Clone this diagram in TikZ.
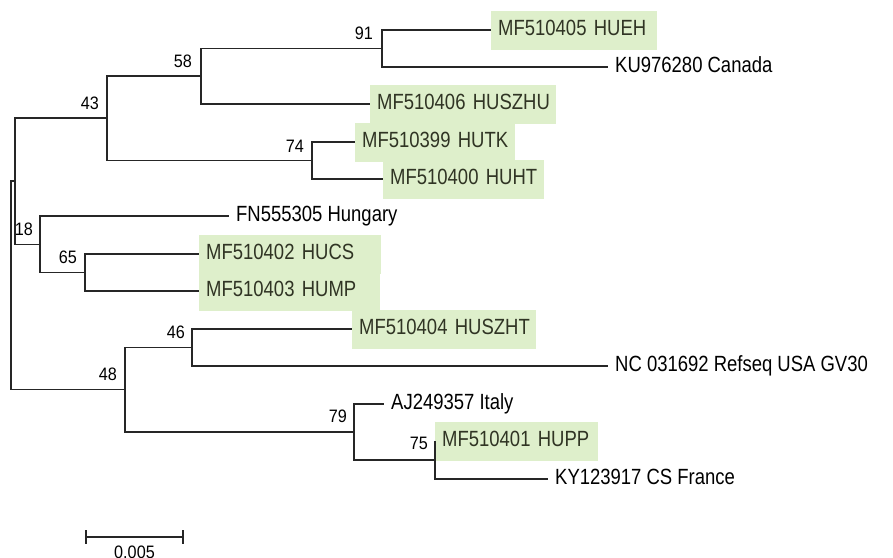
\documentclass[tikz,border=0pt]{standalone}
\usepackage{fontspec}
\setmainfont{Liberation Sans}[FakeStretch=0.84]
\newfontfamily\bsfont{Liberation Sans}[FakeStretch=0.9]
\usetikzlibrary{positioning}
\definecolor{hlgreen}{RGB}{222,239,203}
\definecolor{hltext}{RGB}{48,52,36}
\tikzset{
  br/.style={draw=black!85,line width=1.2pt},
  leaf/.style={anchor=west,inner xsep=7pt,inner ysep=0pt,minimum height=39pt,
               text height=16pt,text depth=6pt,font=\fontsize{22}{24}\selectfont},
  hl/.style={leaf,fill=hlgreen,text=hltext,text width=#1,align=left},
  bs/.style={inner sep=0pt,text height=13pt,text depth=0pt,
             font=\bsfont\fontsize{18}{20}\selectfont},
}

\begin{document}
\begin{tikzpicture}[x=1pt,y=-1pt]
  \useasboundingbox (0,0) rectangle (893,557);
  \clip (0,0) rectangle (893,557);
  % --- inner nodes of the tree ---
  \coordinate (root) at (11,285.5);
  \coordinate (ntop) at (15,181);
  \coordinate (n43)  at (107,118);
  \coordinate (n58)  at (201,76);
  \coordinate (n91)  at (382,48.5);
  \coordinate (n74)  at (312,160.5);
  \coordinate (n18)  at (40,244.5);
  \coordinate (n65)  at (85,272.5);
  \coordinate (n48)  at (125,389.5);
  \coordinate (n46)  at (192,347.5);
  \coordinate (n79)  at (354,432);
  \coordinate (n75)  at (435,460);
  % --- leaves ---
  \node[hl=152pt] (hueh)    at (491,30)  {\mbox{MF510405 HUEH}};
  \node[leaf]     (canada)  at (608,67)  {KU976280 Canada};
  \node[hl=172pt] (huszhu)  at (370,104) {\mbox{MF510406 HUSZHU}};
  \node[hl=146pt] (hutk)    at (355,142) {\mbox{MF510399 HUTK}};
  \node[hl=147pt] (huht)    at (383,179) {\mbox{MF510400 HUHT}};
  \node[leaf]     (hungary) at (229,216) {FN555305 Hungary};
  \node[hl=168pt] (hucs)    at (199,254) {\mbox{MF510402 HUCS}};
  \node[hl=167pt] (hump)    at (199,291) {\mbox{MF510403 HUMP}};
  \node[hl=170pt] (huszht)  at (352,329) {\mbox{MF510404 HUSZHT}};
  \node[leaf]     (usa)     at (608,366) {NC 031692 Refseq USA GV30};
  \node[leaf]     (italy)   at (384,404) {AJ249357 Italy};
  \node[hl=149pt] (hupp)    at (435,441) {\mbox{MF510401 HUPP}};
  \node[leaf]     (france)  at (548,479) {KY123917 CS France};
  % --- branches ---
  \draw[br] (root) |- (ntop) (root) |- (n48);
  \draw[br] (ntop) |- (n43) (ntop) |- (n18);
  \draw[br] (n43) |- (n58) (n43) |- (n74);
  \draw[br] (n58) |- (n91) (n58) |- (huszhu.west);
  \draw[br] (n91) |- (hueh.west) (n91) |- (canada.west);
  \draw[br] (n74) |- (hutk.west) (n74) |- (huht.west);
  \draw[br] (n18) |- (hungary.west) (n18) |- (n65);
  \draw[br] (n65) |- (hucs.west) (n65) |- (hump.west);
  \draw[br] (n48) |- (n46) (n48) |- (n79);
  \draw[br] (n46) |- (huszht.west) (n46) |- (usa.west);
  \draw[br] (n79) |- (italy.west) (n79) |- (n75);
  \draw[br] (n75) |- (hupp.west) (n75) |- (france.west);
  % --- bootstrap values ---
  \node[bs,left=9pt of n91,yshift=15.5pt] (l91) {91};
  \node[bs,left=9pt of n58,yshift=15pt]   (l58) {58};
  \node[bs,left=8pt of n43,yshift=15pt]   (l43) {43};
  \node[bs,left=8pt of n74,yshift=14.5pt] (l74) {74};
  \node[bs,left=7pt of n18,yshift=16pt]   (l18) {18};
  \node[bs,left=8pt of n65,yshift=15.5pt] (l65) {65};
  \node[bs,left=8pt of n48,yshift=15.5pt] (l48) {48};
  \node[bs,left=7pt of n46,yshift=15.5pt] (l46) {46};
  \node[bs,left=7pt of n79,yshift=16pt]   (l79) {79};
  \node[bs,left=7pt of n75,yshift=17pt]   (l75) {75};
  % --- scale bar ---
  \coordinate (sbl) at (86,537);
  \coordinate (sbr) at (183,537);
  \draw[br] (sbl) -- (sbr) coordinate[midway] (sbm);
  \draw[br] ([yshift=7pt]sbl) -- ([yshift=-7pt]sbl);
  \draw[br] ([yshift=7pt]sbr) -- ([yshift=-7pt]sbr);
  \node[bs,below=8pt of sbm] (sblab) {0.005};
\end{tikzpicture}
\end{document}
